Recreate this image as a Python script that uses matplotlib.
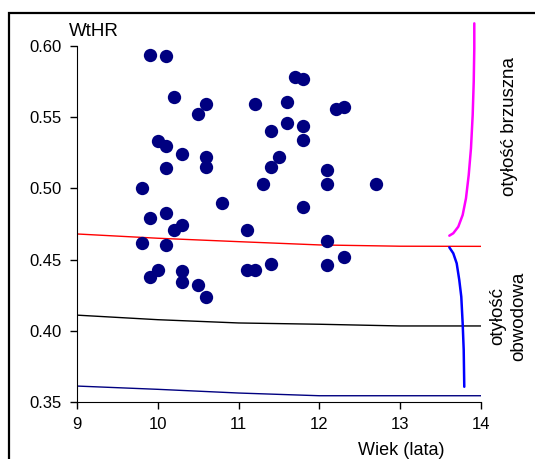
import matplotlib
matplotlib.use("Agg")
import matplotlib.pyplot as plt
from matplotlib.patches import Rectangle

plt.rcParams['font.family'] = ['Liberation Sans', 'DejaVu Sans']

# children: age (years) and waist-to-height ratio
age = [9.9, 10.1, 10.2, 10.6, 10.5, 11.2, 10.0, 10.1, 10.3, 10.6, 10.6, 10.1,
       11.7, 11.8, 11.6, 12.2, 12.3, 11.6, 11.8, 11.4, 11.8, 11.5, 11.4, 12.1,
       11.3, 12.1, 12.7, 9.8, 10.8, 9.9, 10.1, 10.2, 10.3, 11.1, 9.8, 10.1,
       10.0, 9.9, 10.3, 10.3, 10.5, 10.6, 11.1, 11.2, 11.8, 12.1, 12.3, 12.1, 11.4]
wthr = [0.594, 0.593, 0.564, 0.559, 0.552, 0.559, 0.533, 0.530, 0.524, 0.522, 0.515, 0.514,
        0.578, 0.577, 0.561, 0.556, 0.557, 0.546, 0.544, 0.540, 0.534, 0.522, 0.515, 0.513,
        0.503, 0.503, 0.503, 0.500, 0.490, 0.479, 0.483, 0.471, 0.474, 0.471, 0.462, 0.460,
        0.443, 0.438, 0.442, 0.434, 0.432, 0.424, 0.443, 0.443, 0.487, 0.463, 0.452, 0.446, 0.447]

# reference lines
years = [9, 10, 11, 12, 13, 14]
red_line = [0.468, 0.465, 0.4626, 0.4603, 0.4594, 0.4593]
black_line = [0.411, 0.4078, 0.4055, 0.4046, 0.4034, 0.4034]
navy_line = [0.3612, 0.3589, 0.3563, 0.3544, 0.3544, 0.3544]

# distribution curves drawn on the right side
mag_x = [13.608, 13.657, 13.719, 13.773, 13.814, 13.848, 13.876, 13.897, 13.910, 13.917, 13.917]
mag_y = [0.4668, 0.4685, 0.4731, 0.4813, 0.4930, 0.5094, 0.5282, 0.5515, 0.5749, 0.5984, 0.6159]
blue_x = [13.608, 13.657, 13.699, 13.731, 13.756, 13.773, 13.786, 13.793]
blue_y = [0.4586, 0.4544, 0.4474, 0.4357, 0.4239, 0.4053, 0.3865, 0.3607]

fig = plt.figure(figsize=(5.35, 4.59), dpi=100)
ax = fig.add_axes([77 / 535, 1 - 402 / 459, 404 / 535, 356 / 459])

ax.plot(years, red_line, color='#ff0000', lw=1.0)
ax.plot(years, black_line, color='black', lw=1.0)
ax.plot(years, navy_line, color='#000080', lw=1.0)
ax.plot(mag_x, mag_y, color='#ff00ff', lw=1.8, clip_on=False, solid_capstyle='round')
ax.plot(blue_x, blue_y, color='#0000ff', lw=1.8, clip_on=False, solid_capstyle='round')
ax.scatter(age, wthr, s=92, color='#000080', zorder=3, clip_on=False, linewidths=0)

ax.set_xlim(9, 14)
ax.set_ylim(0.35, 0.60)
ax.set_xticks([9, 10, 11, 12, 13, 14])
ax.set_yticks([0.35, 0.40, 0.45, 0.50, 0.55, 0.60])
ax.set_yticklabels(['0.35', '0.40', '0.45', '0.50', '0.55', '0.60'])
ax.spines['top'].set_visible(False)
ax.spines['right'].set_visible(False)
ax.tick_params(direction='out', length=5, width=1, labelsize=12, pad=6)

fig.text(69 / 535, 1 - 36 / 459, 'WtHR', fontsize=13.5, ha='left', va='baseline')
fig.text(401 / 535, 1 - 442 / 459, 'Wiek (lata)', fontsize=13, ha='center', va='top')
fig.text(509 / 535, 1 - 127 / 459, 'otyłość brzuszna', fontsize=13.5, rotation=90,
         ha='center', va='center')
fig.text(508 / 535, 1 - 316 / 459, 'otyłość\nobwodowa', fontsize=13.5, rotation=90,
         ha='center', va='center', multialignment='center', linespacing=1.3)

fig.patches.append(Rectangle((8.5 / 535, -0.2), 1.2, 1 - 13 / 459 + 0.2,
                             transform=fig.transFigure, fill=False, lw=1.6,
                             edgecolor='black'))

fig.savefig('out.png', dpi=100)
